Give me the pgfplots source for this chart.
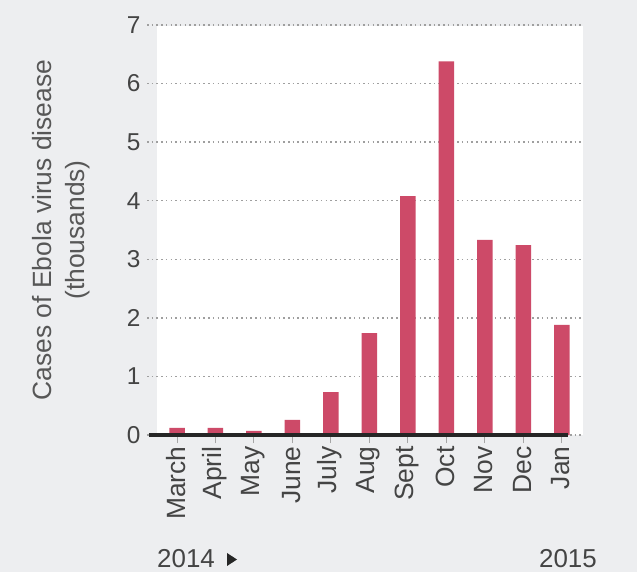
\documentclass[border=0pt]{standalone}
\usepackage{fontspec}
\setmainfont{Liberation Sans}
\usepackage{pgfplots}
\pgfplotsset{compat=1.18}
\definecolor{bg}{HTML}{EDEEF0}
\definecolor{barc}{HTML}{CD4A68}
\definecolor{txt}{HTML}{444444}
\definecolor{lab}{HTML}{575757}
\begin{document}
\begin{tikzpicture}
\path[use as bounding box, fill=bg] (0,0) rectangle (637bp,572bp);
\fill[white] (157bp,137bp) rectangle (583bp,546bp);
\begin{axis}[
  at={(147bp,137bp)}, anchor=south west,
  scale only axis, width=436bp, height=410bp,
  xmin=-0.78, xmax=10.55, ymin=0, ymax=7,
  clip=false,
  axis line style={draw=none},
  ybar, bar width=15.5bp,
  xtick={0,1,2,3,4,5,6,7,8,9,10},
  xticklabels={March,April,May,June,July,Aug,Sept,Oct,Nov,Dec,Jan},
  ytick={0,1,2,3,4,5,6,7},
  xtick pos=bottom, ytick pos=left,
  tick align=outside, major tick length=8bp,
  xtick style={draw=gray!70, line width=1bp},
  ytick style={draw=none},
  ymajorgrids,
  major grid style={draw=gray!75, line width=1.5bp, dash pattern=on 1.5bp off 3.2bp},
  /pgf/number format/assume math mode=true,
  xticklabel style={rotate=90, anchor=east, font=\fontsize{26.5}{30}\selectfont, text=txt, yshift=1bp},
  yticklabel style={font=\fontsize{24.5}{28}\selectfont, text=txt, xshift=5bp},
  ylabel={Cases of Ebola virus disease\\(thousands)},
  ylabel style={align=center, font=\fontsize{26.5}{33}\selectfont, text=lab,
    at={(axis description cs:-0.197,0.5)}, anchor=center},
]
\addplot[fill=barc, draw=none] coordinates {
 (0,0.12) (1,0.12) (2,0.07) (3,0.26) (4,0.73) (5,1.74)
 (6,4.08) (7,6.38) (8,3.33) (9,3.24) (10,1.88)};
\draw[line width=3.6bp, black!85] (axis cs:-0.73,0) -- (axis cs:10.16,0);
\end{axis}
\node[anchor=base west, font=\fontsize{26}{30}\selectfont, text=txt, inner sep=0pt] at (157bp,5bp) {2014};
\fill[black!85] (227bp,6bp) -- (227bp,19bp) -- (237bp,12.5bp) -- cycle;
\node[anchor=base east, font=\fontsize{26}{30}\selectfont, text=txt, inner sep=0pt] at (597bp,5bp) {2015};
\end{tikzpicture}
\end{document}
